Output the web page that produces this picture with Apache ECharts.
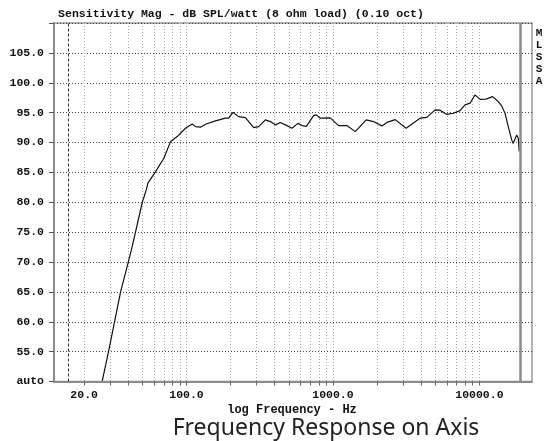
<!DOCTYPE html>
<html>
<head>
<meta charset="utf-8">
<script src="https://cdn.jsdelivr.net/npm/echarts@6/dist/echarts.min.js"></script>
<style>
html,body{margin:0;padding:0;background:#fff;}
#chart{width:545px;height:441px;}
</style>
</head>
<body>
<div id="chart"></div>
<script>
// Frequency (Hz) and sensitivity (dB SPL/watt)
const freqHz = [26.6, 29.5, 35.5, 40.4, 42.6, 49.9, 53.1, 54.5, 61.5, 70.0, 77.8, 86.4, 98.4,
  109.4, 115.2, 124.6, 134.7, 157.7, 184.5, 194.2, 207.5, 227.2, 252.5, 287.6, 311.1, 345.5,
  373.7, 404.2, 437.3, 473.0, 525.5, 575.6, 614.8, 657.7, 737.6, 769.6, 819.3, 958.5, 1092,
  1245, 1419, 1687, 1891, 2158, 2334, 2659, 3160, 3543, 3937, 4374, 4982, 5387, 5986, 6639,
  7375, 7977, 8629, 9333, 10095, 11093, 12285, 13455, 14192, 14948, 15740, 16608, 17025,
  17965, 18422, 18713];
const splDb = [50.1, 55.3, 65.05, 70.35, 72.6, 80.0, 82.07, 83.19, 85.13, 87.37, 90.15, 90.99, 92.39,
  93.11, 92.66, 92.56, 93.06, 93.62, 94.07, 94.07, 95.04, 94.33, 94.17, 92.49, 92.66, 93.78,
  93.5, 92.95, 93.36, 92.95, 92.39, 93.2, 92.83, 92.7, 94.5, 94.62, 94.07, 94.12, 92.83,
  92.83, 91.82, 93.78, 93.5, 92.78, 93.36, 93.83, 92.39, 93.28, 94.07, 94.2, 95.46, 95.41, 94.7, 94.9,
  95.34, 96.29, 96.58, 97.97, 97.21, 97.25, 97.68, 96.85, 96.13, 94.9, 92.66, 90.44, 89.85,
  91.27, 90.72, 88.51];
// axis ticks / labels
const xTickValues = [20, 30, 40, 50, 60, 70, 80, 90, 100, 200, 300, 400, 500, 600, 700, 800, 900,
  1000, 2000, 3000, 4000, 5000, 6000, 7000, 8000, 9000, 10000];
const xLabelValues = [20, 100, 1000, 10000];
const xMin = 12.45, xMax = 22860;
const yMin = 50, yMax = 110, yStep = 5;
const markerLowHz = 15.6;
const markerHighHz = 19100;
const titleText = 'Sensitivity Mag - dB SPL/watt (8 ohm load) (0.10 oct)';
const xAxisTitle = 'log Frequency - Hz';
const captionText = 'Frequency Response on Axis';
const sideText = ['M', 'L', 'S', 'S', 'A'];

const mono = '"Liberation Mono", "DejaVu Sans Mono", monospace';
const chart = echarts.init(document.getElementById('chart'), null, {renderer: 'canvas'});
const data = freqHz.map((f, i) => [f, splDb[i]]);
chart.setOption({
  animation: false,
  backgroundColor: '#fff',
  grid: {left: 54, right: 13, top: 23, bottom: 59.5, show: true, borderColor: '#9a9a9a', borderWidth: 1.5},
  xAxis: {
    type: 'log', logBase: 10, min: xMin, max: xMax,
    axisLine: {show: true, lineStyle: {color: '#8c8c8c', width: 2}},
    axisTick: {show: true, inside: false, length: 4, customValues: xTickValues, lineStyle: {color: '#666', width: 1}},
    axisLabel: {show: true, customValues: xLabelValues, margin: 8, color: '#111',
      fontFamily: mono, fontWeight: 'bold', fontSize: 11.5,
      formatter: v => Number(v).toFixed(1)},
    splitLine: {show: true, lineStyle: {color: '#aaa', type: [1, 2], width: 1}},
    minorTick: {show: false}
  },
  yAxis: {
    type: 'value', min: yMin, max: yMax, interval: yStep,
    axisLine: {show: true, lineStyle: {color: '#8c8c8c', width: 2}},
    axisTick: {show: true, inside: false, length: 5, lineStyle: {color: '#555', width: 1}},
    axisLabel: {margin: 10, color: '#111', fontFamily: mono, fontWeight: 'bold', fontSize: 11.5,
      formatter: v => v === yMin ? 'auto' : (v === yMax ? '' : v.toFixed(1))},
    splitLine: {show: true, lineStyle: {color: '#444', type: [1, 2], width: 1}}
  },
  series: [{
    type: 'line', data: data, showSymbol: false, symbol: 'none', smooth: false,
    lineStyle: {color: '#111', width: 1.2}, clip: true,
    markLine: {
      silent: true, symbol: 'none', animation: false,
      label: {show: false},
      data: [
        {xAxis: markerLowHz, lineStyle: {color: '#333', type: [3, 2], width: 1}},
        {xAxis: markerHighHz, lineStyle: {color: '#8c8c8c', type: 'solid', width: 2.5}}
      ]
    }
  }],
  graphic: [
    {type: 'text', style: {x: 241, y: 14, text: titleText, font: 'bold 11.5px ' + mono, fill: '#111', textAlign: 'center', textVerticalAlign: 'middle'}},
    {type: 'text', style: {x: 292, y: 410, text: xAxisTitle, font: 'bold 12px ' + mono, fill: '#111', textAlign: 'center', textVerticalAlign: 'middle'}},
    {type: 'text', style: {x: 326, y: 428, text: captionText, font: '23px "Noto Sans", "Open Sans", sans-serif', fill: '#222', textAlign: 'center', textVerticalAlign: 'middle'}},
    {type: 'text', style: {x: 539, y: 27, text: sideText.join('\n'), font: 'bold 11px ' + mono, fill: '#111', textAlign: 'center', lineHeight: 12}}
  ]
});
</script>
</body>
</html>
